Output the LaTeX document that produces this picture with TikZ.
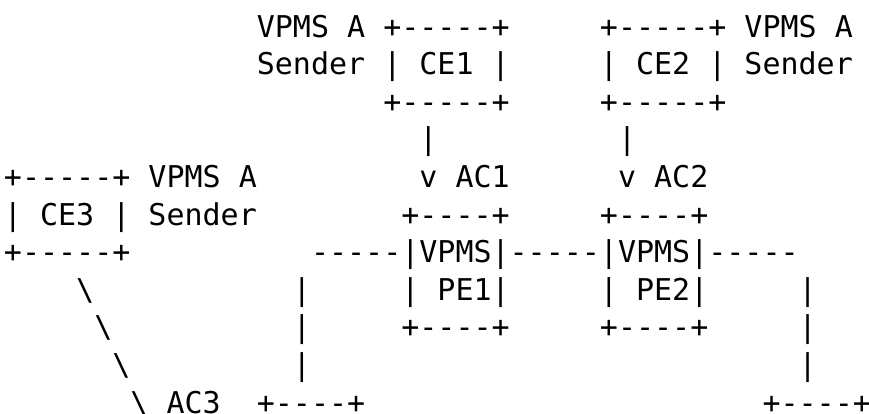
\documentclass[tikz,border=0pt]{standalone}
\usepackage{fontspec}
\setmonofont{DejaVu Sans Mono}
\usepackage{tikz}

\begin{document}
\begin{tikzpicture}[
        x=18.06pt, y=-37.6pt,
        txt/.style={anchor=base west, inner sep=0pt, outer sep=0pt, font=\ttfamily\fontsize{30}{36}\selectfont}
    ]
        \useasboundingbox (-4pt,-0.6pt) rectangle (865pt,-413.6pt);

        % CE1 and CE2 (top)
        \node[txt] (ceonetag)   at (14,1) {VPMS};
        \node[txt] (ceonea)     at (19,1) {A};
        \node[txt] (ceonetop)   at (21,1) {+-----+};
        \node[txt] (cetwotop)   at (33,1) {+-----+};
        \node[txt] (cetwotag)   at (41,1) {VPMS};
        \node[txt] (cetwoa)     at (46,1) {A};

        \node[txt] (ceonesnd)   at (14,2) {Sender};
        \node[txt] (ceonel)     at (21,2) {|};
        \node[txt] (ceone)      at (23,2) {CE1};
        \node[txt] (ceoner)     at (27,2) {|};
        \node[txt] (cetwol)     at (33,2) {|};
        \node[txt] (cetwo)      at (35,2) {CE2};
        \node[txt] (cetwor)     at (39,2) {|};
        \node[txt] (cetwosnd)   at (41,2) {Sender};

        \node[txt] (ceonebot)   at (21,3) {+-----+};
        \node[txt] (cetwobot)   at (33,3) {+-----+};

        % attachment circuits AC1, AC2
        \node[txt] (aconebar)   at (23,4) {|};
        \node[txt] (actwobar)   at (34,4) {|};
        \node[txt] (aconetip)   at (23,5) {v};
        \node[txt] (acone)      at (25,5) {AC1};
        \node[txt] (actwotip)   at (34,5) {v};
        \node[txt] (actwo)      at (36,5) {AC2};

        % CE3 (left)
        \node[txt] (cethreetop) at (0,5) {+-----+};
        \node[txt] (cethreetag) at (8,5) {VPMS};
        \node[txt] (cethreea)   at (13,5) {A};
        \node[txt] (cethreel)   at (0,6) {|};
        \node[txt] (cethree)    at (2,6) {CE3};
        \node[txt] (cethreer)   at (6,6) {|};
        \node[txt] (cethreesnd) at (8,6) {Sender};
        \node[txt] (cethreebot) at (0,7) {+-----+};

        % PE1 and PE2
        \node[txt] (peonetop)   at (22,6) {+----+};
        \node[txt] (petwotop)   at (33,6) {+----+};
        \node[txt] (pebackbone) at (17,7) {-----|VPMS|-----|VPMS|-----};
        \node[txt] (peonel)     at (22,8) {|};
        \node[txt] (peone)      at (24,8) {PE1|};
        \node[txt] (petwol)     at (33,8) {|};
        \node[txt] (petwo)      at (35,8) {PE2|};
        \node[txt] (peonebot)   at (22,9) {+----+};
        \node[txt] (petwobot)   at (33,9) {+----+};

        % legs down to the lower boxes
        \foreach \k in {8,9,10} {
            \node[txt] (legl\k) at (16,\k) {|};
            \node[txt] (legr\k) at (44,\k) {|};
        }

        % AC3
        \foreach \k/\c in {8/4, 9/5, 10/6, 11/7}
            \node[txt] (acthree\k) at (\c,\k) {\textbackslash};
        \node[txt] (acthree)    at (9,11) {AC3};

        % lower boxes
        \node[txt] (lowl)       at (14,11) {+----+};
        \node[txt] (lowr)       at (42,11) {+----+};
    \end{tikzpicture}
\end{document}
